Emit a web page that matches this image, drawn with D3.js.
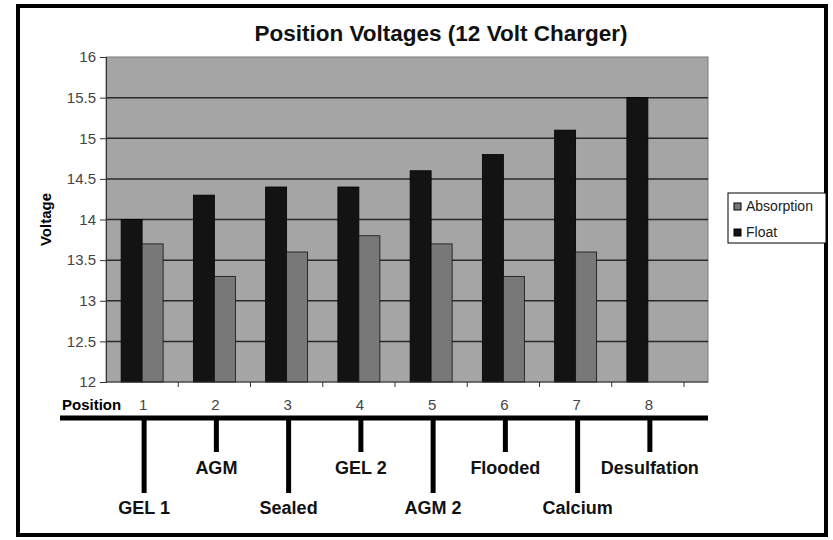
<!DOCTYPE html>
<html>
<head>
<meta charset="utf-8">
<script src="https://cdn.jsdelivr.net/npm/d3@7"></script>
<style>
  body { margin: 0; background: #fff; }
  text { font-family: "Liberation Sans", Arial, sans-serif; }
</style>
</head>
<body>
<div id="chart"></div>
<script>
// Chart data
const positions = ["1", "2", "3", "4", "5", "6", "7", "8"];
const batteryTypes = ["GEL 1", "AGM", "Sealed", "GEL 2", "AGM 2", "Flooded", "Calcium", "Desulfation"];
const floatVolts = [14.0, 14.3, 14.4, 14.4, 14.6, 14.8, 15.1, 15.5];
const absorptionVolts = [13.7, 13.3, 13.6, 13.8, 13.7, 13.3, 13.6, null];
const yTicks = [12, 12.5, 13, 13.5, 14, 14.5, 15, 15.5, 16];

const svgWidth = 833;
const svgHeight = 540;

// Layout of the plot area
const plotLeft = 106, plotRight = 708, plotTop = 57, plotBottom = 382;
const bandWidth = 72.25;

const svg = d3.select("#chart")
    .append("svg")
    .attr("width", svgWidth)
    .attr("height", svgHeight);

// Outer frame
svg.append("rect")
    .attr("x", 18).attr("y", 6)
    .attr("width", 808).attr("height", 529)
    .attr("fill", "#fff")
    .attr("stroke", "#000")
    .attr("stroke-width", 4);

// Scales
const xScale = d3.scaleBand()
    .domain(positions)
    .range([plotLeft, plotLeft + bandWidth * positions.length])
    .paddingInner(0)
    .paddingOuter(0);

const yScale = d3.scaleLinear()
    .domain([12, 16])
    .range([plotBottom, plotTop]);

const barW = 21;

// Plot background
svg.append("rect")
    .attr("x", plotLeft).attr("y", plotTop)
    .attr("width", plotRight - plotLeft).attr("height", plotBottom - plotTop)
    .attr("fill", "#a5a5a5")
    .attr("stroke", "#7a7a7a")
    .attr("stroke-width", 1);

// Gridlines
svg.append("g")
    .selectAll("line")
    .data(yTicks.slice(1, -1))
    .enter().append("line")
    .attr("x1", plotLeft).attr("x2", plotRight)
    .attr("y1", d => yScale(d)).attr("y2", d => yScale(d))
    .attr("stroke", "#2a2a2a")
    .attr("stroke-width", 1.5);

// Float bars
svg.append("g")
    .selectAll("rect")
    .data(positions)
    .enter().append("rect")
    .attr("x", (d) => xScale(d) + xScale.bandwidth() / 2 - barW)
    .attr("y", (d, i) => yScale(floatVolts[i]))
    .attr("width", barW)
    .attr("height", (d, i) => yScale(12) - yScale(floatVolts[i]))
    .attr("fill", "#131313")
    .attr("stroke", "#000")
    .attr("stroke-width", 0.8);

// Absorption bars
svg.append("g")
    .selectAll("rect")
    .data(positions.filter((d, i) => absorptionVolts[i] != null))
    .enter().append("rect")
    .attr("x", (d) => xScale(d) + xScale.bandwidth() / 2)
    .attr("y", (d) => yScale(absorptionVolts[positions.indexOf(d)]))
    .attr("width", barW)
    .attr("height", (d) => yScale(12) - yScale(absorptionVolts[positions.indexOf(d)]))
    .attr("fill", "#787878")
    .attr("stroke", "#111")
    .attr("stroke-width", 0.8);

// Y axis
const yAxis = svg.append("g")
    .attr("transform", `translate(${plotLeft},0)`)
    .call(d3.axisLeft(yScale).tickValues(yTicks).tickSize(6).tickPadding(4).tickFormat(d3.format("")));
yAxis.select(".domain").attr("stroke", "#333");
yAxis.selectAll(".tick line").attr("stroke", "#333");
yAxis.selectAll("text")
    .attr("font-size", 15)
    .attr("fill", "#444")
    .style("font-family", "'Liberation Sans', Arial, sans-serif");

// X axis line with ticks between categories
svg.append("line")
    .attr("x1", plotLeft).attr("x2", plotRight)
    .attr("y1", plotBottom).attr("y2", plotBottom)
    .attr("stroke", "#333").attr("stroke-width", 1);
svg.append("g")
    .selectAll("line")
    .data(positions)
    .enter().append("line")
    .attr("x1", d => xScale(d) + xScale.bandwidth())
    .attr("x2", d => xScale(d) + xScale.bandwidth())
    .attr("y1", plotBottom).attr("y2", plotBottom + 5)
    .attr("stroke", "#333");

// Y axis title
svg.append("text")
    .attr("transform", `translate(51,${(plotTop + plotBottom) / 2}) rotate(-90)`)
    .attr("text-anchor", "middle")
    .attr("font-size", 15)
    .attr("font-weight", "bold")
    .text("Voltage");

// Chart title
svg.append("text")
    .attr("x", 441).attr("y", 41)
    .attr("text-anchor", "middle")
    .attr("font-size", 22.5)
    .attr("font-weight", "bold")
    .attr("fill", "#111")
    .text("Position Voltages (12 Volt Charger)");

// Legend
const legend = svg.append("g");
legend.append("rect")
    .attr("x", 728).attr("y", 193)
    .attr("width", 98).attr("height", 50)
    .attr("fill", "#fff")
    .attr("stroke", "#000")
    .attr("stroke-width", 1);
const legendItems = [
    { name: "Absorption", color: "#787878" },
    { name: "Float", color: "#131313" }
];
legendItems.forEach((item, i) => {
    legend.append("rect")
        .attr("x", 734).attr("y", 203 + i * 26)
        .attr("width", 7).attr("height", 7)
        .attr("fill", item.color)
        .attr("stroke", "#000");
    legend.append("text")
        .attr("x", 746).attr("y", 211 + i * 26)
        .attr("font-size", 14)
        .attr("fill", "#222")
        .text(item.name);
});

// Position row
const center = d => xScale(d) + xScale.bandwidth() / 2;
svg.append("text")
    .attr("x", 62).attr("y", 410)
    .attr("font-size", 15)
    .attr("font-weight", "bold")
    .text("Position");
svg.append("g")
    .selectAll("text")
    .data(positions)
    .enter().append("text")
    .attr("x", d => center(d) + 1)
    .attr("y", 410)
    .attr("text-anchor", "middle")
    .attr("font-size", 15)
    .attr("fill", "#444")
    .text(d => d);

// Thick timeline bar
svg.append("line")
    .attr("x1", 60).attr("x2", plotRight)
    .attr("y1", 418).attr("y2", 418)
    .attr("stroke", "#000")
    .attr("stroke-width", 5);

// Drop lines and battery type labels
svg.append("g")
    .selectAll("line")
    .data(positions)
    .enter().append("line")
    .attr("x1", d => center(d) + 2)
    .attr("x2", d => center(d) + 2)
    .attr("y1", 418)
    .attr("y2", (d, i) => i % 2 === 0 ? 493 : 452)
    .attr("stroke", "#000")
    .attr("stroke-width", 5);

svg.append("g")
    .selectAll("text")
    .data(positions)
    .enter().append("text")
    .attr("x", d => center(d) + 2)
    .attr("y", (d, i) => i % 2 === 0 ? 514 : 474)
    .attr("text-anchor", "middle")
    .attr("font-size", 18)
    .attr("font-weight", "bold")
    .attr("fill", "#111")
    .text((d, i) => batteryTypes[i]);
</script>
</body>
</html>
